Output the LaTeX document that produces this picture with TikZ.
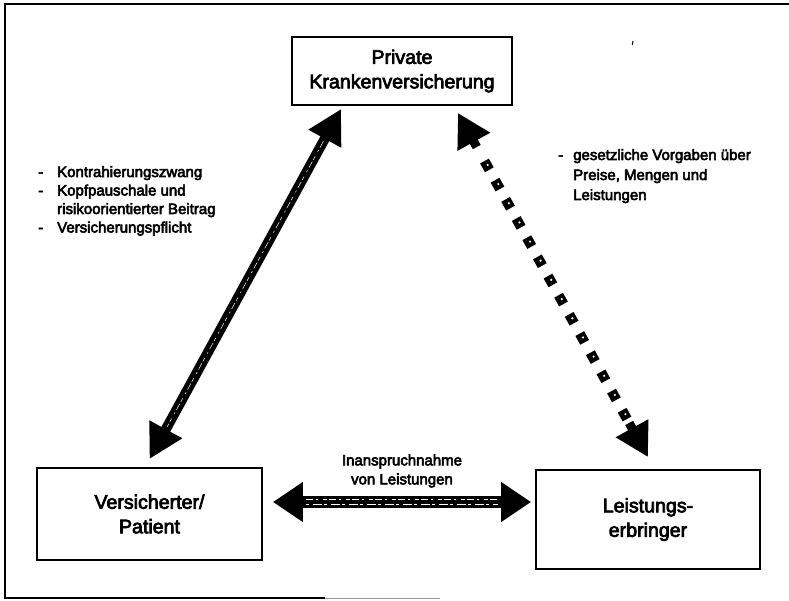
\documentclass[tikz,border=0pt]{standalone}
\usepackage{fontspec}
\setmainfont{Liberation Sans}
\usetikzlibrary{arrows.meta,calc}
% fill and stroke glyph outlines for a heavier print
\newcommand\inkon[1]{\special{pdf:code 2 Tr #1 w}}
\begin{document}
\begin{tikzpicture}[x=1pt,y=-1pt,
  box/.style={draw=black,line width=1.8pt,fill=white,align=center,inner sep=0pt,
    font=\inkon{0.7}\fontsize{19.6}{24.5}\selectfont},
  note/.style={inner sep=0pt,font=\inkon{0.55}\fontsize{15}{18.5}\selectfont},
  fatarrow/.style={line width=#1,draw=black},
  sqr/.style={fill=black,minimum size=10pt,inner sep=0pt,outer sep=0pt},
  grain/.style={white,line width=0.5pt,dash pattern=on 7pt off 3pt on 2pt off 5pt on 4pt off 2pt}
]
\useasboundingbox (0,0) rectangle (789,601);

% outer frame (open on the right)
\draw[line width=2pt] (789,4) -- (5,4) -- (5,598) -- (325,598);
\draw[line width=1pt,black!40] (325,598) -- (440,598);

% boxes
\node[box,minimum width=220pt,minimum height=68pt] (pk) at (402,71) {Private\\Krankenversicherung};
\node[box,minimum width=225pt,minimum height=92pt] (vp) at (149.5,514) {Versicherter/\\Patient};
\node[box,minimum width=224pt,minimum height=99pt] (le) at (648,519.5) {Leistungs-\\erbringer};

% connector end points
\coordinate (a1) at ([xshift=50pt,yshift=-3pt]pk.south west);
\coordinate (a2) at ([yshift=8pt]vp.north);
\coordinate (d1) at ([xshift=-55pt,yshift=-7pt]pk.south east);
\coordinate (d2) at ([yshift=12pt]le.north);
\coordinate (h1) at ([xshift=10pt,yshift=12pt]vp.east);
\coordinate (h2) at ([xshift=-4pt,yshift=17.5pt]le.west);

% insurer <-> insured
\draw[fatarrow=10pt,{Triangle[length=34pt,width=35pt]}-{Triangle[length=34pt,width=35pt]}] (a1) -- (a2);
\draw[grain] ($(a1)!37pt!(a2)$) -- ($(a2)!37pt!(a1)$);

% insured <-> providers
\draw[fatarrow=12pt,{Triangle[length=30pt,width=38pt]}-{Triangle[length=30pt,width=38pt]}] (h1) -- (h2);
\draw[grain] ($(h1)!33pt!(h2)+(0,-2.5)$) -- ($(h2)!33pt!(h1)+(0,-2.5)$);
\draw[grain,dash pattern=on 3pt off 4pt on 9pt off 2pt] ($(h1)!33pt!(h2)+(0,2.5)$) -- ($(h2)!33pt!(h1)+(0,2.5)$);

% insurer <-> providers (dotted)
\draw[fatarrow=9pt,-{Triangle[length=33pt,width=35pt]}] ($(d1)!39pt!(d2)$) -- (d1);
\draw[fatarrow=9pt,-{Triangle[length=33pt,width=35pt]}] ($(d2)!39pt!(d1)$) -- (d2);
\foreach \k in {0,...,13}{
  \pgfmathsetmacro\dd{60+\k*21.9}
  \node[sqr,rotate=-61.1] (s\k) at ($(d1)!\dd pt!(d2)$) {};
  \fill[white] ([xshift=0.8pt,yshift=0.5pt]s\k.center) circle (1.2pt);
}

% labels
\node[note,anchor=base west] (lt) at (38,177)
  {\begin{tabular}[t]{@{}l@{\hspace{14pt}}l@{}}
   -&Kontrahierungszwang\\
   -&Kopfpauschale und\\
    &risikoorientierter Beitrag\\
   -&Versicherungspflicht
   \end{tabular}};
\node[note,anchor=base west,font=\inkon{0.55}\fontsize{15}{20}\selectfont] (rt) at (558,160)
  {\begin{tabular}[t]{@{}l@{\hspace{10pt}}l@{}}
   -&gesetzliche Vorgaben über\\
    &Preise, Mengen und\\
    &Leistungen
   \end{tabular}};
\node[note,align=center,font=\inkon{0.55}\fontsize{15}{19}\selectfont] (ml) at (402,471)
  {Inanspruchnahme\\von Leistungen};

% small speck near the top edge
\draw[line width=1pt] (633,41) -- (632.3,45);
\end{tikzpicture}
\end{document}
